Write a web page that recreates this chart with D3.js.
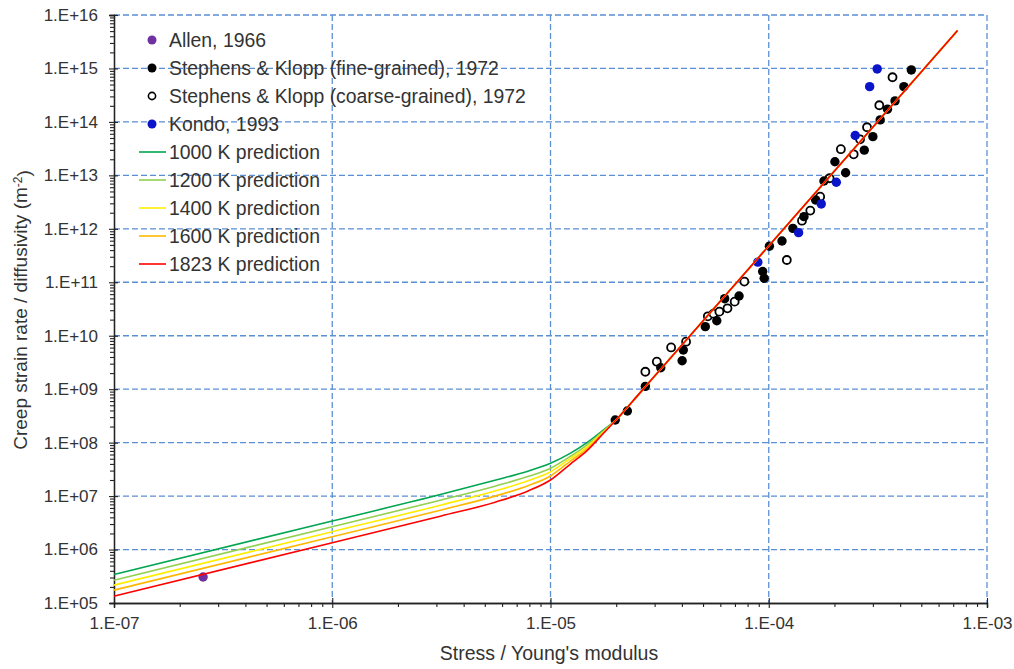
<!DOCTYPE html>
<html>
<head>
<meta charset="utf-8">
<script src="https://cdn.jsdelivr.net/npm/d3@7"></script>
<style>
  html, body { margin: 0; padding: 0; background: #fff; }
  svg { display: block; font-family: "Liberation Sans", Arial, sans-serif; }
</style>
</head>
<body>
<svg id="chart" width="1014" height="669"></svg>
<script>
// ---------- DATA ----------
const xTickValues = [1e-7, 1e-6, 1e-5, 1e-4, 1e-3];
const xTickLabels = ["1.E-07", "1.E-06", "1.E-05", "1.E-04", "1.E-03"];
const yTickValues = [1e5, 1e6, 1e7, 1e8, 1e9, 1e10, 1e11, 1e12, 1e13, 1e14, 1e15, 1e16];
const yTickLabels = ["1.E+05", "1.E+06", "1.E+07", "1.E+08", "1.E+09", "1.E+10",
                     "1.E+11", "1.E+12", "1.E+13", "1.E+14", "1.E+15", "1.E+16"];

const allenX = [2.56e-7];
const allenY = [3.06e5];

const fineX = [1.98e-5, 2.25e-5, 2.72e-5, 3.20e-5, 4.01e-5, 4.06e-5, 5.12e-5, 5.78e-5, 6.28e-5,
               7.31e-5, 9.38e-5, 9.53e-5, 1.007e-4, 1.15e-4, 1.29e-4, 1.45e-4, 1.64e-4, 1.79e-4,
               2.01e-4, 2.25e-4, 2.74e-4, 3.00e-4, 3.24e-4, 3.50e-4, 3.79e-4, 4.16e-4, 4.50e-4];
const fineY = [2.65e8, 3.91e8, 1.13e9, 2.52e9, 3.41e9, 5.41e9, 1.48e10, 1.91e10, 4.93e10,
               5.54e10, 1.59e11, 1.19e11, 4.73e11, 5.93e11, 1.02e12, 1.69e12, 3.47e12, 7.85e12,
               1.80e13, 1.12e13, 2.96e13, 5.30e13, 1.09e14, 1.73e14, 2.47e14, 4.57e14, 9.38e14];

const coarseX = [2.72e-5, 3.07e-5, 3.57e-5, 4.18e-5, 5.26e-5, 5.58e-5, 5.94e-5, 6.47e-5, 6.98e-5,
                 7.73e-5, 1.21e-4, 1.42e-4, 1.55e-4, 1.72e-4, 1.90e-4, 2.14e-4, 2.45e-4, 2.62e-4,
                 2.82e-4, 3.21e-4, 3.69e-4];
const coarseY = [2.12e9, 3.27e9, 6.03e9, 7.74e9, 2.31e10, 2.59e10, 2.82e10, 3.26e10, 4.34e10,
                 1.03e11, 2.61e11, 1.42e12, 2.19e12, 3.99e12, 8.83e12, 3.09e13, 2.48e13, 4.73e13,
                 7.94e13, 2.05e14, 6.84e14];

const kondoX = [8.91e-5, 1.37e-4, 1.74e-4, 2.04e-4, 2.49e-4, 2.90e-4, 3.14e-4];
const kondoY = [2.38e11, 8.47e11, 2.92e12, 7.43e12, 5.58e13, 4.57e14, 9.79e14];

// prediction curves (stress / Young's modulus shared by all curves)
const curveX = [1e-7, 1e-6, 3.16e-6, 5.62e-6, 7.94e-6, 1e-5, 1.23e-5, 1.47e-5, 1.75e-5, 2.01e-5,
                2.5e-5, 3.16e-5, 1e-4, 3.16e-4, 7.33e-4];
const pred1000Y = [3.42e5, 3.42e6, 1.08e7, 2.00e7, 2.95e7, 4.11e7, 6.31e7, 1.00e8, 1.73e8, 2.74e8,
                   7.5e8, 2.24e9, 4.79e11, 1.02e14, 5.13e15];
const pred1200Y = [2.67e5, 2.67e6, 8.45e6, 1.55e7, 2.34e7, 3.31e7, 5.50e7, 9.12e7, 1.66e8, 2.74e8,
                   7.5e8, 2.24e9, 4.79e11, 1.02e14, 5.13e15];
const pred1400Y = [2.16e5, 2.16e6, 6.82e6, 1.26e7, 1.95e7, 2.86e7, 5.01e7, 8.32e7, 1.60e8, 2.74e8,
                   7.5e8, 2.24e9, 4.79e11, 1.02e14, 5.13e15];
const pred1600Y = [1.74e5, 1.74e6, 5.50e6, 1.01e7, 1.58e7, 2.38e7, 4.47e7, 7.67e7, 1.55e8, 2.74e8,
                   7.5e8, 2.24e9, 4.79e11, 1.02e14, 5.13e15];
const pred1823Y = [1.34e5, 1.34e6, 4.25e6, 7.76e6, 1.26e7, 2.00e7, 3.94e7, 7.08e7, 1.50e8, 2.74e8,
                   7.5e8, 2.24e9, 4.79e11, 1.02e14, 5.13e15];

const scatterNames = ["Allen, 1966", "Stephens & Klopp (fine-grained), 1972",
                      "Stephens & Klopp (coarse-grained), 1972", "Kondo, 1993"];
const lineNames = ["1000 K prediction", "1200 K prediction", "1400 K prediction",
                   "1600 K prediction", "1823 K prediction"];

// ---------- STYLES ----------
const purple = "#7030a0", blue = "#0a14c8", black = "#000";
const lineColors = ["#00a651", "#92d050", "#ffee00", "#ffb800", "#ff0000"];
const gridColor = "#5b8fd3";
const textColor = "#333";

// ---------- CHART ----------
const svg = d3.select("#chart");
const L = 114, R = 987, T = 15, B = 603;
const x = d3.scaleLog().domain([1e-7, 1e-3]).range([L, R]);
const y = d3.scaleLog().domain([1e5, 1e16]).range([B, T]);

// gridlines
const grid = svg.append("g");
grid.selectAll("line.gx").data(xTickValues.slice(1)).join("line")
  .attr("x1", d => x(d)).attr("x2", d => x(d)).attr("y1", T).attr("y2", B)
  .attr("stroke", gridColor).attr("stroke-width", 1.3).attr("stroke-dasharray", "6,3");
grid.selectAll("line.gy").data(yTickValues.slice(1)).join("line")
  .attr("x1", L).attr("x2", R).attr("y1", d => y(d)).attr("y2", d => y(d))
  .attr("stroke", gridColor).attr("stroke-width", 1.3).attr("stroke-dasharray", "6,3");

// minor tick values
const yMinor = [];
for (let e = 5; e < 16; e++) for (let k = 2; k <= 9; k++) yMinor.push(k * Math.pow(10, e));
const xMinor = [];
for (let e = -7; e < -3; e++) for (let k = 2; k <= 9; k++) xMinor.push(k * Math.pow(10, e));

const axisColor = "#222";
// y axis
const yMinorG = svg.append("g").attr("transform", `translate(${L},0)`)
  .call(d3.axisLeft(y).tickValues(yMinor).tickSize(4).tickFormat(""));
const yAxisG = svg.append("g").attr("transform", `translate(${L},0)`)
  .call(d3.axisLeft(y).tickValues(yTickValues).tickSize(5).tickPadding(11)
        .tickFormat((d, i) => yTickLabels[i]));
yAxisG.selectAll(".tick line").attr("x1", 4);
// x axis
const xMinorG = svg.append("g").attr("transform", `translate(0,${B})`)
  .call(d3.axisBottom(x).tickValues(xMinor).tickSize(4).tickFormat(""));
const xAxisG = svg.append("g").attr("transform", `translate(0,${B})`)
  .call(d3.axisBottom(x).tickValues(xTickValues).tickSize(5).tickPadding(9)
        .tickFormat((d, i) => xTickLabels[i]));
xAxisG.selectAll(".tick line").attr("y1", -5);

[yMinorG, yAxisG, xMinorG, xAxisG].forEach(g => {
  g.select(".domain").attr("stroke", axisColor).attr("stroke-width", 1.3);
  g.selectAll(".tick line").attr("stroke", axisColor).attr("stroke-width", 1.1);
  g.selectAll(".tick text").attr("fill", textColor).style("font-size", "17px")
    .style("font-family", '"Liberation Sans", Arial, sans-serif');
});

// scatter markers
const markers = svg.append("g");
function drawPts(xs, ys, fill, stroke, r, sw) {
  markers.append("g").selectAll("circle").data(xs.map((v, i) => [v, ys[i]])).join("circle")
    .attr("cx", d => x(d[0])).attr("cy", d => y(d[1])).attr("r", r)
    .attr("fill", fill).attr("stroke", stroke).attr("stroke-width", sw);
}
drawPts(allenX, allenY, purple, "none", 4.7, 0);
drawPts(coarseX, coarseY, "#fff", black, 4.0, 1.8);
drawPts(fineX, fineY, black, "none", 4.7, 0);
drawPts(kondoX, kondoY, blue, "none", 4.7, 0);

// prediction lines
const preds = [pred1000Y, pred1200Y, pred1400Y, pred1600Y, pred1823Y];
const lineGen = d3.line().x(d => x(d[0])).y(d => y(d[1])).curve(d3.curveMonotoneX);
preds.forEach((ys, k) => {
  svg.append("path").datum(curveX.map((v, i) => [v, ys[i]]))
    .attr("d", lineGen).attr("fill", "none")
    .attr("stroke", lineColors[k]).attr("stroke-width", 1.6);
});

// legend
const leg = svg.append("g");
const rowY = i => 40 + 28 * i;
const legFill = [purple, black, "#fff", blue];
const legStroke = ["none", "none", black, "none"];
scatterNames.forEach((name, i) => {
  leg.append("circle").attr("cx", 152).attr("cy", rowY(i))
    .attr("r", i === 2 ? 3.6 : 4.5).attr("fill", legFill[i]).attr("stroke", legStroke[i])
    .attr("stroke-width", 1.6);
  leg.append("text").attr("x", 169).attr("y", rowY(i)).attr("dy", "0.35em")
    .attr("fill", textColor).style("font-size", "19.4px").text(name);
});
lineNames.forEach((name, j) => {
  const i = j + 4;
  leg.append("line").attr("x1", 139).attr("x2", 166).attr("y1", rowY(i)).attr("y2", rowY(i))
    .attr("stroke", lineColors[j]).attr("stroke-width", 1.6);
  leg.append("text").attr("x", 169).attr("y", rowY(i)).attr("dy", "0.35em")
    .attr("fill", textColor).style("font-size", "19.4px").text(name);
});

// axis titles
svg.append("text").attr("x", 549).attr("y", 660).attr("text-anchor", "middle")
  .attr("fill", textColor).style("font-size", "19.5px").text("Stress / Young's modulus");
const yt = svg.append("text").attr("transform", "translate(27,310) rotate(-90)")
  .attr("text-anchor", "middle").attr("fill", textColor).style("font-size", "19px");
yt.append("tspan").text("Creep strain rate / diffusivity (m");
yt.append("tspan").attr("dy", "-0.45em").style("font-size", "12px").text("-2");
yt.append("tspan").attr("dy", "0.45em").text(")");
</script>
</body>
</html>
